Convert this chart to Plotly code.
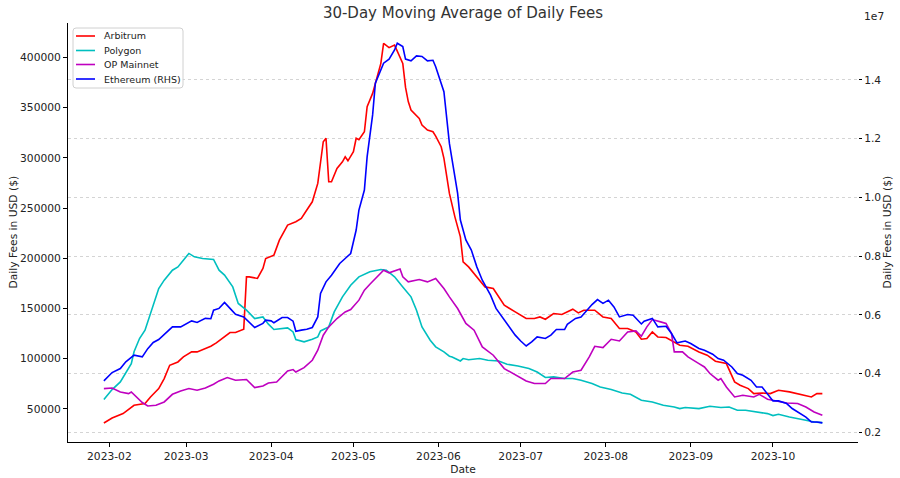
import pandas as pd
import plotly.graph_objects as go

# ---- data (day offsets are days relative to 2023-02-01) ----
base_date = "2023-02-01"

arb_days = [-2,1,5,9,13,15,18,20,22,25,27,30,32,35,37,39,41,44,46,49,
            50,51,54,56,57,60,62,65,68,70,72,74,76,78,79,80,81,83,85,86,
            87,89,90,91,93,94,96,99,100,101,102,104,105,107,108,109,110,113,114,116,
            118,119,121,122,124,126,128,129,131,134,137,140,142,144,148,152,155,157,159,162,
            165,169,171,173,177,180,183,186,189,192,194,196,198,200,203,206,208,211,215,218,
            221,225,226,228,230,233,235,238,241,244,248,251,254,256,258,260]
arb_fees = [36000,41000,45400,53700,55400,62000,70300,80300,93500,96800,
            101800,106800,106800,110100,112400,115700,120100,126100,126100,129400,
            181500,181500,179900,189800,199800,203100,218000,233000,236300,239600,
            248000,256200,274500,316000,319400,276100,276100,289400,296000,301000,
            297000,306000,319400,318000,325900,350800,364100,394000,413900,412000,
            409600,412200,405600,394000,370000,356000,347500,339200,332600,327600,
            325900,321600,311000,299400,264500,241200,221300,196400,191400,181500,
            171500,169900,161600,153300,146600,140000,140000,141600,139300,145000,
            144000,149300,145600,148300,148300,141600,140000,130100,130100,126700,
            119400,120100,126700,121700,121100,116800,113400,112400,106800,103500,
            97500,95200,88500,76900,73600,70300,65300,65900,65300,68600,
            67000,65300,63600,62000,65300,65300]

poly_days = [-2,1,4,6,8,9,11,13,15,17,18,20,23,25,27,29,31,34,38,40,
             42,45,47,50,53,56,58,60,65,67,68,71,74,76,77,80,82,85,88,91,
             95,99,101,104,107,110,112,114,117,119,122,124,125,128,129,131,135,138,142,145,
             149,153,156,159,162,166,169,172,176,179,183,187,190,194,198,202,206,208,210,215,
             219,223,226,229,232,236,240,242,244,248,251,254,257,260]
poly_fees = [59400,69300,76900,85300,95000,107000,120100,128400,145000,161600,
             169900,178200,188100,191400,198100,204800,201400,199800,198800,188100,
             183200,171500,155000,148300,140000,141600,134400,129100,130700,126700,
             119100,116800,119400,121700,127700,131700,146600,161600,173200,181500,
             186500,188800,188100,181500,171500,161600,148300,131700,118400,111800,
             106800,102500,101800,97800,100200,99000,100200,98500,97800,94500,
             92800,90200,86800,81300,81900,80300,80300,78600,75300,71900,
             69300,65900,64600,58700,57000,53700,52000,50400,51400,50400,
             52700,51400,52000,48700,48700,47000,45400,43400,44700,42000,
             40000,38700,37000,36400]

op_days = [-2,1,4,7,8,10,12,14,17,20,23,26,29,32,35,38,40,43,46,50,
           53,56,58,61,65,67,68,71,74,76,78,80,83,86,88,91,93,95,97,100,
           102,106,107,109,113,116,119,122,124,127,130,133,136,140,144,147,152,155,159,161,
           166,169,172,175,177,180,183,186,189,192,194,196,198,201,203,205,206,209,211,215,
           217,219,222,223,225,228,231,235,237,240,243,247,251,254,257,260]
op_fees = [70300,70900,66900,65300,66900,62000,56400,53000,53700,57000,
           64600,67900,70300,68600,70900,74600,77900,81300,78600,79300,
           71300,72900,75900,76900,87900,89200,86800,91200,98500,108500,
           123400,131700,140000,146600,149000,158300,168200,174200,179900,188100,
           185500,189400,181500,176500,178900,176500,179900,169900,161600,150000,
           135100,128400,111800,103500,90200,85300,77900,75300,75300,80300,
           80300,86800,88500,101800,112400,111100,119400,117700,126700,127700,
           122400,131700,139000,136700,135100,125100,106800,106800,101800,95200,
           91800,85300,78600,80300,71900,62000,63600,62000,64600,59700,
           58000,56000,55400,52000,47000,43700]

eth_days = [-2,1,4,6,9,12,14,16,18,21,23,26,28,30,32,35,37,38,40,42,
            44,46,49,51,53,56,57,59,60,63,65,67,68,70,72,74,76,77,79,81,
            84,86,88,90,91,93,94,96,97,100,102,104,105,107,108,110,112,114,116,118,
            119,122,123,124,125,127,128,130,132,134,136,138,139,141,144,146,148,150,152,154,
            156,159,161,163,166,167,170,172,174,176,178,180,182,184,186,189,191,194,195,198,
            200,203,205,207,210,212,215,217,220,222,224,227,229,231,234,236,238,240,242,244,
            247,249,252,254,256,258,260]
eth_fees_1e7 = [0.375,0.4035,0.417,0.440,0.4625,0.457,0.485,0.506,0.516,0.542,
                0.559,0.559,0.568,0.5795,0.574,0.588,0.587,0.616,0.622,0.642,
                0.622,0.602,0.593,0.574,0.557,0.571,0.582,0.5795,0.573,0.591,
                0.591,0.5785,0.544,0.548,0.551,0.557,0.593,0.673,0.7125,0.735,
                0.775,0.792,0.809,0.889,0.957,1.025,1.139,1.281,1.389,1.457,
                1.471,1.502,1.525,1.514,1.471,1.465,1.482,1.480,1.465,1.467,
                1.445,1.360,1.264,1.184,1.127,1.014,0.923,0.855,0.8205,0.7635,
                0.718,0.684,0.667,0.622,0.582,0.559,0.531,0.511,0.494,0.508,
                0.525,0.5195,0.531,0.550,0.550,0.568,0.588,0.593,0.616,0.635,
                0.652,0.639,0.650,0.627,0.593,0.601,0.599,0.569,0.5785,0.588,
                0.559,0.561,0.5365,0.5045,0.511,0.5025,0.4855,0.4795,0.466,0.451,
                0.4455,0.4225,0.400,0.394,0.377,0.3545,0.3545,0.332,0.307,0.307,
                0.298,0.281,0.264,0.252,0.235,0.235,0.232]

series_names = ["Arbitrum", "Polygon", "OP Mainnet", "Ethereum (RHS)"]
series_colors = ["#ff0000", "#00bfbf", "#bf00bf", "#0000ff"]

month_ticks = ["2023-02-01","2023-03-01","2023-04-01","2023-05-01","2023-06-01",
               "2023-07-01","2023-08-01","2023-09-01","2023-10-01"]
left_ticks = [50000,100000,150000,200000,250000,300000,350000,400000]
right_ticks = [0.2,0.4,0.6,0.8,1.0,1.2,1.4]
right_tick_text = ["0.2","0.4","0.6","0.8","1.0","1.2","1.4"]


def to_dates(days):
    return pd.Timestamp(base_date) + pd.to_timedelta(days, unit="D")


# ---- geometry of the figure (pixels) ----
W, H = 900, 478
PL, PR, PT, PB = 68, 858, 23, 442


def fx(px):
    return (px - PL) / (PR - PL)


def fy(py):
    return (PB - py) / (PB - PT)


FONT = "DejaVu Sans"
TXT = "#222222"
fig = go.Figure()
lw = 1.6
fig.add_trace(go.Scatter(x=to_dates(arb_days), y=arb_fees, name=series_names[0], mode="lines",
                         line=dict(color=series_colors[0], width=lw)))
fig.add_trace(go.Scatter(x=to_dates(poly_days), y=poly_fees, name=series_names[1], mode="lines",
                         line=dict(color=series_colors[1], width=lw)))
fig.add_trace(go.Scatter(x=to_dates(op_days), y=op_fees, name=series_names[2], mode="lines",
                         line=dict(color=series_colors[2], width=lw)))
fig.add_trace(go.Scatter(x=to_dates(eth_days), y=eth_fees_1e7, name=series_names[3], mode="lines",
                         line=dict(color=series_colors[3], width=lw), yaxis="y2"))

fig.update_layout(
    width=W, height=H,
    margin=dict(l=PL, r=W - PR, t=PT, b=H - PB),
    paper_bgcolor="white", plot_bgcolor="white",
    font=dict(family=FONT, size=10.7, color=TXT),
    showlegend=False,
    title=dict(text="30-Day Moving Average of Daily Fees", x=0.5, xref="paper",
               y=1 - 13 / H, yanchor="middle", xanchor="center",
               font=dict(family=FONT, size=15, color="#333333")),
    xaxis=dict(
        type="date", automargin=False,
        range=["2023-01-16 22:00", "2023-11-01 00:00"],
        tickvals=month_ticks, tickformat="%Y-%m",
        showgrid=False, zeroline=False,
        showline=True, linecolor="black", linewidth=1,
        ticks="outside", ticklen=4, tickcolor="black",
        title=dict(text="Date", standoff=2, font=dict(size=10.7)),
    ),
    yaxis=dict(
        automargin=False,
        range=[17130, 434160],
        tickvals=left_ticks, tickformat="d",
        showgrid=False, zeroline=False,
        showline=True, linecolor="black", linewidth=1,
        ticks="outside", ticklen=4, tickcolor="black",
    ),
    yaxis2=dict(
        automargin=False,
        overlaying="y", side="right", anchor="x",
        range=[0.167, 1.594],
        tickvals=right_ticks, ticktext=right_tick_text,
        showgrid=True, gridcolor="#d4d4d4", gridwidth=0.8, griddash="dot",
        zeroline=False, showline=False,
        ticks="outside", ticklen=3, tickcolor="black",
    ),
)

# axis titles for the two y axes
fig.add_annotation(text="Daily Fees in USD ($)", xref="paper", yref="paper",
                   x=fx(13), y=0.5, textangle=-90, showarrow=False,
                   xanchor="center", yanchor="middle", font=dict(size=10.7, color=TXT))
fig.add_annotation(text="Daily Fees in USD ($)", xref="paper", yref="paper",
                   x=fx(887), y=0.5, textangle=-90, showarrow=False,
                   xanchor="center", yanchor="middle", font=dict(size=10.7, color=TXT))
# offset text of the right axis
fig.add_annotation(text="1e7", xref="paper", yref="paper", x=fx(862), y=fy(17),
                   xanchor="left", yanchor="middle", showarrow=False,
                   font=dict(size=10.7, color=TXT))

# legend box (matplotlib style)
bx0, bx1, by0, by1, r = fx(73), fx(183), fy(88), fy(28), 3
rx, ry = r / (PR - PL), r / (PB - PT)
path = (f"M {bx0+rx},{by0} L {bx1-rx},{by0} Q {bx1},{by0} {bx1},{by0+ry} "
        f"L {bx1},{by1-ry} Q {bx1},{by1} {bx1-rx},{by1} L {bx0+rx},{by1} "
        f"Q {bx0},{by1} {bx0},{by1-ry} L {bx0},{by0+ry} Q {bx0},{by0} {bx0+rx},{by0} Z")
fig.add_shape(type="path", path=path, xref="paper", yref="paper",
              fillcolor="rgba(255,255,255,0.85)", line=dict(color="#d0d0d0", width=1), layer="above")
legend_rows = [36, 50.5, 64.5, 79]
for name, color, row in zip(series_names, series_colors, legend_rows):
    fig.add_shape(type="line", xref="paper", yref="paper",
                  x0=fx(76), x1=fx(95), y0=fy(row), y1=fy(row),
                  line=dict(color=color, width=lw), layer="above")
    fig.add_annotation(text=name, xref="paper", yref="paper", x=fx(102), y=fy(row),
                       xanchor="left", yanchor="middle", showarrow=False,
                       font=dict(size=9.5, color=TXT))

# remove the default page margin so the figure sits at the top-left corner
fig.write_html("out.html",
               config={"displayModeBar": False},
               post_script="document.body.style.margin='0';document.body.style.overflow='hidden';")
